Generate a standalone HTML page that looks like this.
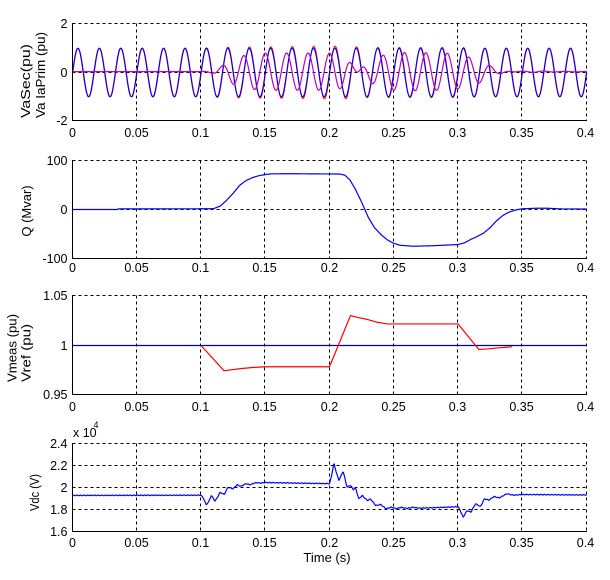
<!DOCTYPE html>
<html><head><meta charset="utf-8">
<style>
html,body{margin:0;padding:0;background:#fff;}
svg{display:block;}
text{font-family:"Liberation Sans",Arial,sans-serif;font-size:12.5px;fill:#000;}
.yl{font-size:13px;}
</style></head>
<body>
<svg id="s" width="610" height="580" viewBox="0 0 610 580" xmlns="http://www.w3.org/2000/svg">
<rect width="610" height="580" fill="#fff"/>
<g stroke="#000" stroke-width="1" stroke-dasharray="3,3" fill="none">
<path d="M136.5 23.5V120M200.5 23.5V120M264.5 23.5V120M329.5 23.5V120M393.5 23.5V120M457.5 23.5V120M521.5 23.5V120M586.5 23.5V120M72.5 23.5H586.5M72.5 72.5H586.5"/>
<path d="M136.5 160.5V258M200.5 160.5V258M264.5 160.5V258M329.5 160.5V258M393.5 160.5V258M457.5 160.5V258M521.5 160.5V258M586.5 160.5V258M72.5 160.5H586.5M72.5 209.5H586.5"/>
<path d="M136.5 295.5V394M200.5 295.5V394M264.5 295.5V394M329.5 295.5V394M393.5 295.5V394M457.5 295.5V394M521.5 295.5V394M586.5 295.5V394M72.5 295.5H586.5M72.5 345.5H586.5"/>
<path d="M136.5 443.5V531M200.5 443.5V531M264.5 443.5V531M329.5 443.5V531M393.5 443.5V531M457.5 443.5V531M521.5 443.5V531M586.5 443.5V531M72.5 443.5H586.5M72.5 465.5H586.5M72.5 487.5H586.5M72.5 509.5H586.5"/>
</g>
<g id="data" fill="none"></g>
<g stroke="#000" stroke-width="1" fill="none">
<path d="M72.5 23V121M72 120.5H587"/>
<path d="M72.5 160V259M72 258.5H587"/>
<path d="M72.5 295V395M72 394.5H587"/>
<path d="M72.5 443V532M72 531.5H587"/>
</g>
<!-- y tick labels -->
<g text-anchor="end">
<text x="67.5" y="28">2</text>
<text x="67.5" y="77">0</text>
<text x="67.5" y="125">-2</text>
<text x="67.5" y="165">100</text>
<text x="67.5" y="214">0</text>
<text x="67.5" y="263">-100</text>
<text x="67.5" y="300">1.05</text>
<text x="67.5" y="350">1</text>
<text x="67.5" y="399">0.95</text>
<text x="67.5" y="448">2.4</text>
<text x="67.5" y="470">2.2</text>
<text x="67.5" y="492">2</text>
<text x="67.5" y="514">1.8</text>
<text x="67.5" y="536">1.6</text>
</g>
<!-- x tick labels -->
<g text-anchor="middle">
<text x="72.5" y="137">0</text><text x="136.5" y="137">0.05</text><text x="200.5" y="137">0.1</text><text x="264.5" y="137">0.15</text><text x="329.5" y="137">0.2</text><text x="393.5" y="137">0.25</text><text x="457.5" y="137">0.3</text><text x="521.5" y="137">0.35</text><text x="585.5" y="137">0.4</text>
<text x="72.5" y="272">0</text><text x="136.5" y="272">0.05</text><text x="200.5" y="272">0.1</text><text x="264.5" y="272">0.15</text><text x="329.5" y="272">0.2</text><text x="393.5" y="272">0.25</text><text x="457.5" y="272">0.3</text><text x="521.5" y="272">0.35</text><text x="585.5" y="272">0.4</text>
<text x="72.5" y="411">0</text><text x="136.5" y="411">0.05</text><text x="200.5" y="411">0.1</text><text x="264.5" y="411">0.15</text><text x="329.5" y="411">0.2</text><text x="393.5" y="411">0.25</text><text x="457.5" y="411">0.3</text><text x="521.5" y="411">0.35</text><text x="585.5" y="411">0.4</text>
<text x="72.5" y="547">0</text><text x="136.5" y="547">0.05</text><text x="200.5" y="547">0.1</text><text x="264.5" y="547">0.15</text><text x="329.5" y="547">0.2</text><text x="393.5" y="547">0.25</text><text x="457.5" y="547">0.3</text><text x="521.5" y="547">0.35</text><text x="585.5" y="547">0.4</text>
</g>
<!-- y labels -->
<text class="yl" transform="translate(30,118) rotate(-90)" textLength="74" lengthAdjust="spacingAndGlyphs">VaSec(pu)</text>
<text class="yl" transform="translate(45,118) rotate(-90)" textLength="86" lengthAdjust="spacingAndGlyphs">Va IaPrim (pu)</text>
<text class="yl" text-anchor="middle" transform="translate(31,211) rotate(-90)">Q (Mvar)</text>
<text class="yl" transform="translate(16.5,382) rotate(-90)" textLength="68" lengthAdjust="spacingAndGlyphs">Vmeas (pu)</text>
<text class="yl" transform="translate(30.5,382) rotate(-90)" textLength="58" lengthAdjust="spacingAndGlyphs">Vref (pu)</text>
<text class="yl" transform="translate(39,511) rotate(-90)" textLength="37" lengthAdjust="spacingAndGlyphs">Vdc (V)</text>
<text x="73" y="437">x 10</text>
<text x="93.5" y="428" style="font-size:9px">4</text>
<text x="327" y="562" text-anchor="middle" class="yl">Time (s)</text>
</svg>
<script>
(function(){
const NS="http://www.w3.org/2000/svg";
const g=document.getElementById('data');
function X(t){return 72.5+t*1285;}
function poly(pts,color,w){
  const p=document.createElementNS(NS,'polyline');
  p.setAttribute('points',pts.map(a=>a[0].toFixed(2)+','+a[1].toFixed(2)).join(' '));
  p.setAttribute('stroke',color);p.setAttribute('stroke-width',w);
  p.setAttribute('fill','none');p.setAttribute('stroke-linejoin','round');
  g.appendChild(p);
}
function lerp(P,t){
  if(t<=P[0][0])return P[0][1];
  for(let i=1;i<P.length;i++){
    if(t<=P[i][0]){const a=P[i-1],b=P[i];return a[1]+(b[1]-a[1])*(t-a[0])/(b[0]-a[0]);}
  }
  return P[P.length-1][1];
}
const Q=[[0,0],[0.035,0],[0.0352,1.2],[0.108,1.5],[0.11,2],[0.115,7],[0.12,19],[0.125,33],[0.13,49],[0.135,59],[0.14,65],[0.145,69],[0.15,71.4],[0.155,72.8],[0.17,73],[0.2,72.5],[0.208,72.5],[0.212,70],[0.216,60],[0.22,42],[0.225,15],[0.23,-15],[0.235,-37],[0.24,-51],[0.245,-62],[0.25,-69],[0.255,-73],[0.265,-75],[0.28,-74],[0.3,-71.5],[0.305,-68],[0.31,-61],[0.315,-55],[0.32,-48],[0.325,-37],[0.33,-23],[0.335,-12],[0.34,-5],[0.345,-1],[0.35,1.5],[0.36,2.5],[0.37,2.5],[0.38,1.2],[0.4,1]];
const W=2*Math.PI*60;
// plot 1
const ampR=[[0,1],[0.1,1],[0.12,1.04],[0.2,1.08],[0.21,1.08],[0.23,1.03],[0.3,1.03],[0.32,1.0],[0.4,1]];
let red=[],blue=[],mag=[];
for(let i=0;i<=2000;i++){
  const t=i*0.0002;const s=Math.sin(W*t);
  blue.push([X(t),72.5-24.25*s]);
  red.push([X(t+0.0002),72.5-24.25*lerp(ampR,t)*s]);
  const A=t<0.1?0:lerp(Q,t+0.005)/95;
  mag.push([X(t),72.5-24.25*(0.035+A*Math.cos(W*t))]);
}
poly(red,'#ff0000',1.1);
poly(blue,'#0000ff',1.1);
poly(mag,'#bf00bf',1.2);
// plot 2
let qp=[];
for(let i=0;i<=800;i++){const t=i*0.0005;qp.push([X(t),209.5-lerp(Q,t)*0.49]);}
poly(qp,'#0000ff',1.2);
// plot 3
poly([[X(0),345.5],[X(0.4),345.5]],'#0000b0',1.2);
const VM=[[0.1,1.0],[0.118,0.9744],[0.122,0.9752],[0.13,0.9765],[0.14,0.9778],[0.15,0.9785],[0.2,0.9785],[0.2163,1.0302],[0.2214,1.0285],[0.229,1.0265],[0.237,1.0235],[0.245,1.0218],[0.3,1.0218],[0.3162,0.996],[0.3227,0.9965],[0.333,0.9978],[0.3422,0.9988]];
poly(VM.map(a=>[X(a[0]),345.5-(a[1]-1)*990]),'#ff0000',1.2);
// plot 4
const VD=[[0,1.928],[0.1,1.93],[0.102,1.90],[0.104,1.843],[0.106,1.87],[0.108,1.927],[0.111,1.876],[0.115,1.957],[0.118,1.936],[0.121,2.003],[0.125,1.988],[0.128,2.025],[0.131,2.01],[0.135,2.035],[0.138,2.025],[0.143,2.045],[0.146,2.04],[0.15,2.045],[0.175,2.04],[0.2,2.035],[0.2015,2.10],[0.2034,2.22],[0.2055,2.13],[0.2073,2.064],[0.2106,2.148],[0.2137,2.003],[0.2163,2.02],[0.2185,1.98],[0.2202,2.0],[0.2228,1.897],[0.2255,1.927],[0.2294,1.882],[0.232,1.895],[0.236,1.836],[0.24,1.845],[0.244,1.806],[0.248,1.821],[0.252,1.808],[0.256,1.82],[0.26,1.81],[0.265,1.82],[0.27,1.812],[0.3,1.825],[0.3014,1.80],[0.304,1.73],[0.307,1.79],[0.31,1.776],[0.3136,1.852],[0.3175,1.827],[0.3206,1.897],[0.324,1.885],[0.328,1.918],[0.332,1.905],[0.338,1.943],[0.3434,1.93],[0.35,1.936],[0.4,1.932]];
let vd=[];
for(let i=0;i<=1000;i++){const t=i*0.0004;const v=lerp(VD,t)+0.003*Math.sin(2*Math.PI*360*t);vd.push([X(t),531.5-(v-1.6)*110]);}
poly(vd,'#0000ff',1.2);
})();
</script>
</body></html>
